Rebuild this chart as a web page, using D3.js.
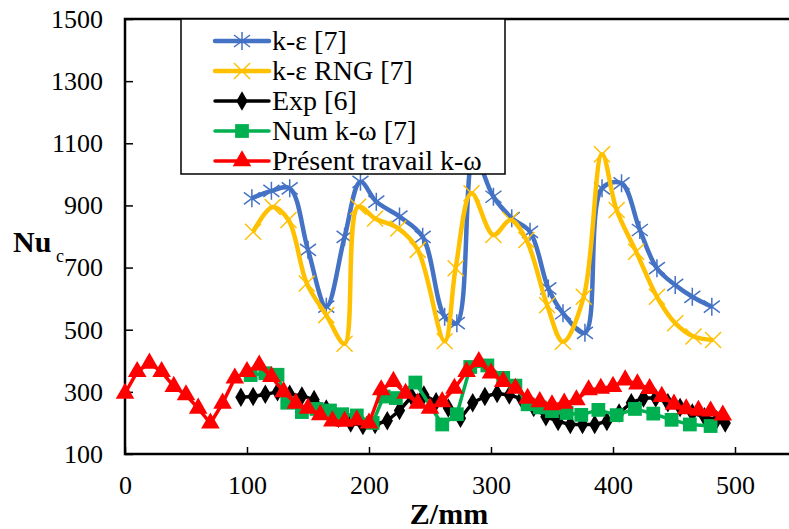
<!DOCTYPE html>
<html>
<head>
<meta charset="utf-8">
<script src="https://cdn.jsdelivr.net/npm/d3@7"></script>
<style>
  body { margin: 0; background: #fff; }
  svg { display: block; font-family: "Liberation Serif", "Times New Roman", serif; }
</style>
</head>
<body>
<svg id="chart" width="789" height="529"></svg>
<script>
const SIZE = { width: 789, height: 529 };
const PLOT = { left: 125, right: 796, top: 19, bottom: 454 };

const xTicks = [0, 100, 200, 300, 400, 500];
const yTicks = [100, 300, 500, 700, 900, 1100, 1300, 1500];

// k-ε [7]
const keZ = [104, 120, 135, 150, 165, 180, 193, 206, 225, 244, 262, 272, 286, 302, 317, 332, 347, 359, 377, 391, 407, 422, 436, 451, 465, 481];
const keV = [923, 947, 955, 757, 574, 799, 976, 912, 864, 799, 542, 521, 1060, 928, 859, 815, 633, 553, 490, 955, 971, 821, 698, 644, 606, 574];

// k-ε RNG [7]
const rngZ = [105, 121, 134, 149, 165, 180, 191, 205, 224, 240, 262, 271, 284, 302, 316, 329, 346, 359, 376, 391, 403, 419, 436, 451, 466, 482];
const rngV = [815, 895, 853, 649, 547, 455, 896, 858, 826, 757, 463, 698, 939, 805, 853, 789, 579, 461, 606, 1065, 885, 751, 606, 521, 478, 467];

// Exp [6]
const expZ = [95, 105, 115, 125, 135, 145, 155, 165, 175, 185, 195, 205, 215, 225, 235, 245, 255, 265, 275, 285, 295, 305, 315, 325, 335, 345, 355, 365, 375, 385, 395, 405, 415, 425, 435, 445, 455, 465, 475, 485, 492];
const expV = [283, 285, 292, 300, 292, 287, 275, 245, 215, 200, 192, 195, 207, 240, 285, 290, 268, 248, 215, 265, 285, 295, 290, 278, 250, 220, 205, 195, 195, 195, 205, 232, 265, 280, 280, 265, 250, 232, 220, 210, 200];

// Num k-ω [7]
const numZ = [103, 115, 125, 133, 145, 157, 168, 178, 190, 203, 212, 222, 238, 260, 272, 283, 297, 310, 320, 330, 340, 350, 362, 374, 388, 403, 418, 433, 448, 463, 480];
const numV = [354, 360, 355, 265, 235, 245, 240, 228, 224, 200, 285, 280, 330, 195, 228, 380, 385, 345, 320, 260, 250, 238, 232, 226, 242, 225, 245, 230, 210, 195, 190];

// Présent travail k-ω
const preZ = [0, 10, 20, 30, 40, 50, 60, 70, 80, 90, 100, 110, 120, 130, 140, 150, 160, 170, 180, 190, 200, 210, 220, 230, 240, 250, 260, 270, 280, 290, 300, 310, 320, 330, 340, 350, 360, 370, 380, 390, 400, 410, 420, 430, 440, 450, 460, 470, 480, 490];
const preV = [295, 365, 392, 365, 317, 290, 247, 199, 263, 344, 365, 386, 349, 300, 263, 247, 226, 206, 205, 209, 199, 306, 333, 295, 263, 247, 268, 311, 365, 397, 360, 333, 311, 279, 268, 258, 263, 274, 306, 311, 317, 338, 325, 310, 285, 260, 245, 240, 238, 225];

const zip = (zs, vs) => zs.map((z, i) => ({ z, v: vs[i] }));

const star = "M0,-9L0,9M-8,-6L8,6M-8,6L8,-6";
const cross = "M-8,-8L8,8M-8,8L8,-8";

const series = [
  { name: "k-ε [7]", data: zip(keZ, keV), color: "#4472C4", width: 4.5, smooth: true, marker: "star" },
  { name: "k-ε RNG [7]", data: zip(rngZ, rngV), color: "#FFC000", width: 4.5, smooth: true, marker: "cross" },
  { name: "Exp [6]", data: zip(expZ, expV), color: "#000000", width: 3.5, smooth: false, marker: "diamond" },
  { name: "Num k-ω [7]", data: zip(numZ, numV), color: "#00B050", width: 3.5, smooth: false, marker: "square" },
  { name: "Présent travail k-ω", data: zip(preZ, preV), color: "#FF0000", width: 3.5, smooth: false, marker: "triangle" }
];

const drawMarker = (sel, s) => {
  if (s.marker === "star" || s.marker === "cross") {
    sel.append("path")
      .attr("d", s.marker === "star" ? star : cross)
      .attr("fill", "none")
      .attr("stroke", s.color)
      .attr("stroke-width", 1.5);
  } else {
    const sym = { diamond: d3.symbolDiamond, square: d3.symbolSquare, triangle: d3.symbolTriangle }[s.marker];
    const size = { diamond: 110, square: 190, triangle: 150 }[s.marker];
    sel.append("path")
      .attr("d", d3.symbol().type(sym).size(size)())
      .attr("fill", s.color);
  }
};

const main = () => {
  const svg = d3.select("#chart");

  const x = d3.scaleLinear().domain([0, 550]).range([PLOT.left, PLOT.right]);
  const y = d3.scaleLinear().domain([100, 1500]).range([PLOT.bottom, PLOT.top]);

  // axes
  const yAxis = d3.axisLeft(y).tickValues(yTicks).tickFormat(d3.format("d"))
    .tickSize(-8).tickSizeOuter(0).tickPadding(22);
  const gy = svg.append("g").attr("transform", `translate(${PLOT.left},0)`).call(yAxis);
  gy.attr("font-family", null).attr("font-size", null);
  gy.select(".domain").remove();
  gy.selectAll("line").attr("stroke", "#000").attr("stroke-width", 1.5);
  gy.selectAll("text").attr("font-size", 26).attr("fill", "#000").attr("dy", "0.32em");

  const xAxis = d3.axisBottom(x).tickValues(xTicks).tickFormat(d3.format("d"))
    .tickSize(-7).tickSizeOuter(0);
  const gx = svg.append("g").attr("transform", `translate(0,${PLOT.bottom})`).call(xAxis);
  gx.attr("font-family", null).attr("font-size", null);
  gx.select(".domain").remove();
  gx.selectAll("line").attr("stroke", "#000").attr("stroke-width", 1.5);
  gx.selectAll("text").attr("font-size", 26).attr("fill", "#000").attr("y", 40).attr("dy", 0);

  svg.append("rect")
    .attr("x", PLOT.left).attr("y", PLOT.top)
    .attr("width", PLOT.right - PLOT.left).attr("height", PLOT.bottom - PLOT.top)
    .attr("fill", "none").attr("stroke", "#000").attr("stroke-width", 2.5);

  // series
  series.forEach(s => {
    const line = d3.line()
      .x(d => x(d.z))
      .y(d => y(d.v))
      .curve(s.smooth ? d3.curveCatmullRom.alpha(0.5) : d3.curveLinear);
    svg.append("path")
      .attr("d", line(s.data))
      .attr("fill", "none")
      .attr("stroke", s.color)
      .attr("stroke-width", s.width)
      .attr("stroke-linejoin", "round");
    const g = svg.append("g");
    s.data.forEach(d => {
      drawMarker(g.append("g").attr("transform", `translate(${x(d.z)},${y(d.v)})`), s);
    });
  });

  // legend
  const lg = svg.append("g");
  lg.append("rect")
    .attr("x", 181).attr("y", 19).attr("width", 324).attr("height", 155)
    .attr("fill", "#fff").attr("stroke", "#000").attr("stroke-width", 1.5);
  series.forEach((s, i) => {
    const ly = 41 + i * 30;
    lg.append("line")
      .attr("x1", 215).attr("x2", 269).attr("y1", ly).attr("y2", ly)
      .attr("stroke", s.color).attr("stroke-width", s.width)
      .attr("stroke-linecap", "round");
    drawMarker(lg.append("g").attr("transform", `translate(242,${ly})`), s);
    lg.append("text")
      .attr("x", 272).attr("y", ly + 9)
      .attr("font-size", 28)
      .text(s.name);
  });

  // axis titles
  svg.append("text")
    .attr("x", 449).attr("y", 524)
    .attr("text-anchor", "middle")
    .attr("font-size", 30).attr("font-weight", "bold")
    .text("Z/mm");
  svg.append("text")
    .attr("x", 13).attr("y", 252)
    .attr("font-size", 30).attr("font-weight", "bold")
    .text("Nu");
  svg.append("text")
    .attr("x", 56).attr("y", 262)
    .attr("font-size", 18)
    .text("c");
};

window.onload = main;
</script>
</body>
</html>
